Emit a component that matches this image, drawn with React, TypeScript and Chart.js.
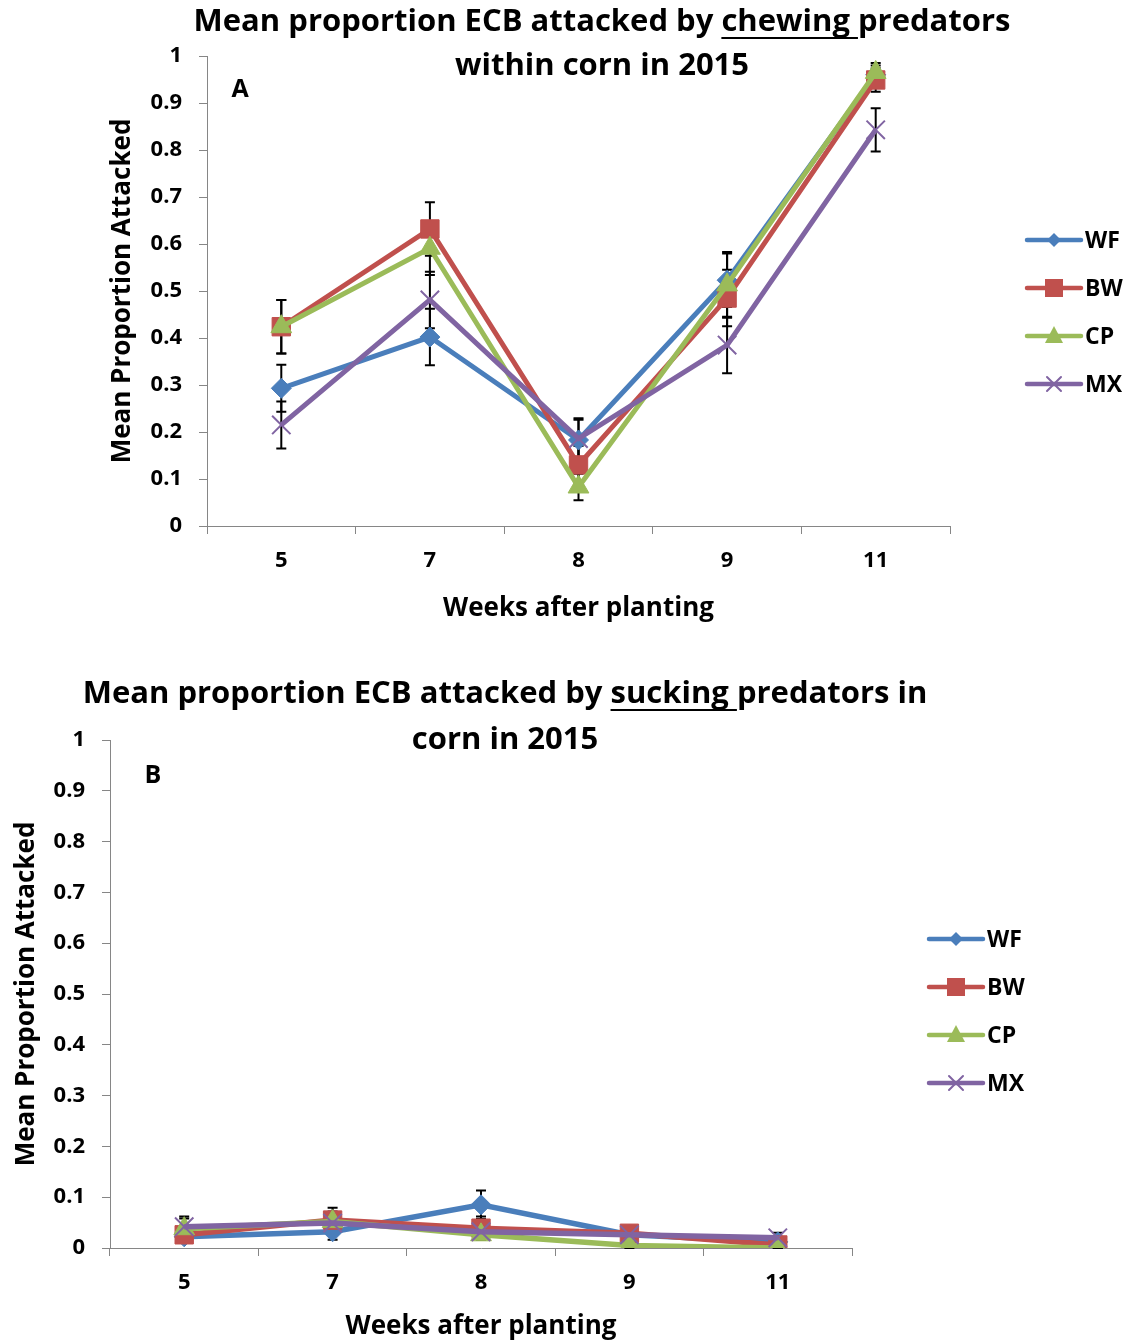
import React, { useEffect, useRef } from "react";
import { Chart, registerables } from "chart.js";

Chart.register(...registerables);

const FONT = "'Open Sans', Lato, 'DejaVu Sans', sans-serif";
const AXIS_GREY = "#868686";
const CANVAS_W = 1130;

// Weeks after planting (x categories) and y-axis tick values
const weeks = ["5", "7", "8", "9", "11"];
const yTicks = [0, 0.1, 0.2, 0.3, 0.4, 0.5, 0.6, 0.7, 0.8, 0.9, 1];

// Treatments, their colours and markers
const treatments = ["WF", "BW", "CP", "MX"];
const colors = ["#4A7EBB", "#C0504D", "#9BBB59", "#8064A2"];
const markers = ["rectRot", "rect", "triangle", "crossRot"];
const markerRadii = [10, 13, 12, 13];

// A: chewing predators — mean proportion attacked and its standard error
const chewWF = [0.293, 0.402, 0.183, 0.523, 0.96];
const chewWFErr = [0.05, 0.06, 0.046, 0.057, 0.02];
const chewBW = [0.424, 0.632, 0.13, 0.485, 0.949];
const chewBWErr = [0.057, 0.057, 0.04, 0.06, 0.025];
const chewCP = [0.424, 0.591, 0.083, 0.513, 0.965];
const chewCPErr = [0.057, 0.057, 0.028, 0.07, 0.02];
const chewMX = [0.215, 0.481, 0.186, 0.385, 0.843];
const chewMXErr = [0.05, 0.06, 0.04, 0.06, 0.046];

// B: sucking predators
const suckWF = [0.022, 0.032, 0.085, 0.026, 0.012];
const suckWFErr = [0.01, 0.016, 0.028, 0.01, 0.01];
const suckBW = [0.026, 0.055, 0.039, 0.029, 0.006];
const suckBWErr = [0.01, 0.024, 0.023, 0.012, 0.008];
const suckCP = [0.038, 0.052, 0.026, 0.005, 0.0];
const suckCPErr = [0.02, 0.02, 0.01, 0.01, 0.005];
const suckMX = [0.042, 0.049, 0.032, 0.026, 0.02];
const suckMXErr = [0.02, 0.02, 0.01, 0.01, 0.01];

const yAxisTitle = "Mean Proportion Attacked";
const xAxisTitle = "Weeks after planting";

type PanelSpec = {
  height: number;
  values: number[][];
  errors: number[][];
  area: { left: number; top: number; right: number; bottom: number };
  yTitleX: number;
  xTitleY: number;
  title: { lines: string[]; underline: string; cx: number; ys: number[]; size: number };
  tag: { text: string; x: number; y: number };
  legend: { x: number; y: number; gap: number };
  lineWidth: number;
};

const chewingPanel: PanelSpec = {
  height: 648,
  values: [chewWF, chewBW, chewCP, chewMX],
  errors: [chewWFErr, chewBWErr, chewCPErr, chewMXErr],
  area: { left: 207, top: 56, right: 950, bottom: 526 },
  yTitleX: 123,
  xTitleY: 609,
  title: {
    lines: ["Mean proportion ECB attacked by chewing predators", "within corn in 2015"],
    underline: "chewing ",
    cx: 602,
    ys: [22, 66],
    size: 31,
  },
  tag: { text: "A", x: 240, y: 90 },
  legend: { x: 1027, y: 240, gap: 48 },
  lineWidth: 5,
};

const suckingPanel: PanelSpec = {
  height: 695,
  values: [suckWF, suckBW, suckCP, suckMX],
  errors: [suckWFErr, suckBWErr, suckCPErr, suckMXErr],
  area: { left: 110, top: 92, right: 852, bottom: 600 },
  yTitleX: 27,
  xTitleY: 679,
  title: {
    lines: ["Mean proportion ECB attacked by sucking predators in", "corn in 2015"],
    underline: "sucking ",
    cx: 505,
    ys: [46, 92],
    size: 31,
  },
  tag: { text: "B", x: 153, y: 128 },
  legend: { x: 929, y: 291, gap: 48 },
  lineWidth: 5.5,
};

// Vertical standard-error bars with caps, drawn under the series
const errorBarPlugin = {
  id: "errorBars",
  beforeDatasetsDraw(chart: any) {
    const ctx = chart.ctx;
    const yScale = chart.scales.y;
    ctx.save();
    ctx.strokeStyle = "#000";
    ctx.lineWidth = 2;
    chart.data.datasets.forEach((ds: any, i: number) => {
      const meta = chart.getDatasetMeta(i);
      ds.data.forEach((v: number, j: number) => {
        const e = ds.errorBars[j];
        const x = meta.data[j].x;
        const yHi = yScale.getPixelForValue(v + e);
        const yLo = yScale.getPixelForValue(Math.max(0, v - e));
        ctx.beginPath();
        ctx.moveTo(x, yHi);
        ctx.lineTo(x, yLo);
        ctx.moveTo(x - 5, yHi);
        ctx.lineTo(x + 5, yHi);
        ctx.moveTo(x - 5, yLo);
        ctx.lineTo(x + 5, yLo);
        ctx.stroke();
      });
    });
    ctx.restore();
  },
};

function drawMarker(ctx: CanvasRenderingContext2D, style: string, x: number, y: number, color: string) {
  ctx.save();
  ctx.fillStyle = color;
  ctx.strokeStyle = color;
  ctx.beginPath();
  if (style === "rectRot") {
    ctx.moveTo(x - 7, y);
    ctx.lineTo(x, y - 7);
    ctx.lineTo(x + 7, y);
    ctx.lineTo(x, y + 7);
    ctx.closePath();
    ctx.fill();
  } else if (style === "rect") {
    ctx.rect(x - 9, y - 9, 18, 18);
    ctx.fill();
  } else if (style === "triangle") {
    ctx.moveTo(x, y - 10);
    ctx.lineTo(x + 9, y + 7);
    ctx.lineTo(x - 9, y + 7);
    ctx.closePath();
    ctx.fill();
  } else {
    ctx.lineWidth = 2;
    ctx.moveTo(x - 7, y - 7);
    ctx.lineTo(x + 7, y + 7);
    ctx.moveTo(x + 7, y - 7);
    ctx.lineTo(x - 7, y + 7);
    ctx.stroke();
  }
  ctx.restore();
}

// Chart heading (with the underlined predator type), panel letter and legend
const panelTextPlugin = {
  id: "panelText",
  afterDraw(chart: any, _args: any, opts: any) {
    const spec: PanelSpec = opts.spec;
    const ctx: CanvasRenderingContext2D = chart.ctx;
    ctx.save();
    ctx.fillStyle = "#000";
    ctx.textBaseline = "middle";
    ctx.textAlign = "left";

    const t = spec.title;
    ctx.font = `bold ${t.size}px ${FONT}`;
    t.lines.forEach((line, i) => {
      const w = ctx.measureText(line).width;
      const x0 = t.cx - w / 2;
      const y = t.ys[i];
      ctx.fillText(line, x0, y);
      const idx = line.indexOf(t.underline);
      if (idx >= 0) {
        const ux = x0 + ctx.measureText(line.slice(0, idx)).width;
        const uw = ctx.measureText(t.underline).width;
        ctx.fillRect(ux, y + 15, uw, 2);
      }
    });

    ctx.font = `bold 25px ${FONT}`;
    ctx.textAlign = "center";
    ctx.fillText(spec.tag.text, spec.tag.x, spec.tag.y);
    ctx.textAlign = "left";

    const lg = spec.legend;
    ctx.font = `bold 23px ${FONT}`;
    chart.data.datasets.forEach((ds: any, i: number) => {
      const y = lg.y + i * lg.gap;
      ctx.strokeStyle = colors[i];
      ctx.lineWidth = 4.5;
      ctx.lineCap = "round";
      ctx.beginPath();
      ctx.moveTo(lg.x, y);
      ctx.lineTo(lg.x + 54, y);
      ctx.stroke();
      drawMarker(ctx, markers[i], lg.x + 27, y, colors[i]);
      ctx.fillStyle = "#000";
      ctx.fillText(ds.label, lg.x + 58, y + 1);
    });
    ctx.restore();
  },
};

function buildConfig(p: PanelSpec): any {
  const tickFont = { family: FONT, size: 22, weight: "bold" as const, lineHeight: 1.2 };
  const axisTitleFont = { family: FONT, size: 26, weight: "bold" as const, lineHeight: 1.2 };
  const halfTitle = (26 * 1.2) / 2;
  return {
    type: "line",
    data: {
      labels: weeks,
      datasets: treatments.map((name, i) => ({
        label: name,
        data: p.values[i],
        errorBars: p.errors[i],
        borderColor: colors[i],
        backgroundColor: colors[i],
        borderWidth: p.lineWidth,
        pointStyle: markers[i],
        pointRadius: markerRadii[i],
        pointHoverRadius: markerRadii[i],
        pointBorderWidth: markers[i] === "crossRot" ? 2 : 1,
        pointBackgroundColor: colors[i],
        pointBorderColor: colors[i],
        tension: 0,
        order: treatments.length - i,
      })),
    },
    options: {
      responsive: false,
      animation: false,
      devicePixelRatio: 1,
      events: [],
      layout: {
        padding: { left: 0, top: p.area.top, right: CANVAS_W - p.area.right, bottom: 0 },
      },
      plugins: {
        legend: { display: false },
        tooltip: { enabled: false },
        title: { display: false },
        panelText: { spec: p },
      },
      scales: {
        x: {
          type: "category",
          offset: true,
          grid: {
            offset: true,
            drawOnChartArea: false,
            drawTicks: true,
            tickLength: 8,
            color: AXIS_GREY,
            lineWidth: 1,
          },
          border: { display: true, color: AXIS_GREY, width: 1 },
          ticks: { color: "#000", font: tickFont, padding: 14, maxRotation: 0 },
          title: {
            display: true,
            text: xAxisTitle,
            color: "#000",
            font: axisTitleFont,
            padding: { top: 0, bottom: p.height - p.xTitleY - halfTitle },
          },
          afterFit: (s: any) => {
            s.height = p.height - p.area.bottom;
          },
        },
        y: {
          type: "linear",
          min: 0,
          max: 1,
          afterBuildTicks: (s: any) => {
            s.ticks = yTicks.map((v) => ({ value: v }));
          },
          grid: {
            drawOnChartArea: false,
            drawTicks: true,
            tickLength: 8,
            color: AXIS_GREY,
            lineWidth: 1,
          },
          border: { display: true, color: AXIS_GREY, width: 1 },
          ticks: {
            color: "#000",
            font: tickFont,
            padding: 17,
            callback: (v: number) => String(v),
          },
          title: {
            display: true,
            text: yAxisTitle,
            color: "#000",
            font: axisTitleFont,
            padding: { top: p.yTitleX - halfTitle, bottom: 0 },
          },
          afterFit: (s: any) => {
            s.width = p.area.left;
          },
        },
      },
    },
    plugins: [errorBarPlugin, panelTextPlugin],
  };
}

function ChartPanel({ spec }: { spec: PanelSpec }) {
  const ref = useRef<HTMLCanvasElement | null>(null);
  useEffect(() => {
    if (!ref.current) return;
    const chart = new Chart(ref.current, buildConfig(spec));
    return () => chart.destroy();
  }, [spec]);
  return (
    <canvas
      ref={ref}
      width={CANVAS_W}
      height={spec.height}
      style={{ display: "block", width: CANVAS_W, height: spec.height }}
    />
  );
}

export default function App() {
  return (
    <div
      style={{
        position: "absolute",
        left: 0,
        top: 0,
        width: CANVAS_W,
        height: 1343,
        background: "#fff",
      }}
    >
      <ChartPanel spec={chewingPanel} />
      <ChartPanel spec={suckingPanel} />
    </div>
  );
}
